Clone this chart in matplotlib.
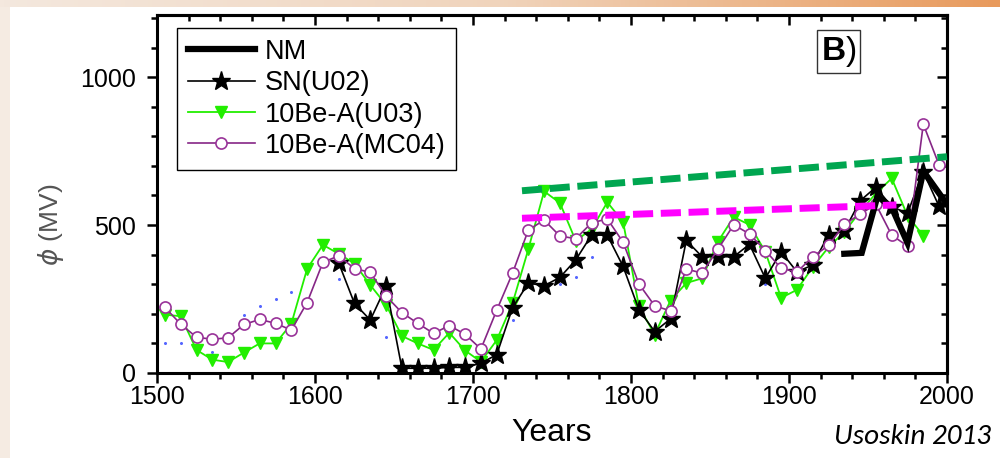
import numpy as np
import matplotlib

matplotlib.use("Agg")
import matplotlib.pyplot as plt
from matplotlib.patches import Rectangle
from matplotlib.ticker import MultipleLocator

plt.rcParams["font.family"] = ["Liberation Sans", "DejaVu Sans"]
plt.rcParams["mathtext.fontset"] = "custom"
plt.rcParams["mathtext.bf"] = "Liberation Sans:bold"
plt.rcParams["mathtext.it"] = "DejaVu Sans:italic"

# decadal reconstructions of the modulation potential (MV)
decades = list(range(1505, 2000, 10))
mc04 = [222, 165, 121, 114, 119, 164, 181, 168, 145, 238,
        374, 396, 353, 340, 260, 204, 168, 134, 160, 131,
        81, 212, 337, 483, 517, 463, 454, 507, 521, 442,
        301, 227, 210, 351, 338, 418, 501, 470, 414, 354,
        341, 393, 431, 502, 537, 570, 466, 429, 841, 703]

u03_years = list(range(1505, 1990, 10))
u03 = [197, 192, 78, 45, 37, 69, 100, 100, 166, 352,
       433, 403, 370, 297, 230, 125, 100, 78, 136, 76,
       38, 111, 235, 418, 614, 575, 447, 486, 577, 511,
       225, 130, 245, 304, 320, 444, 527, 501, 410, 254,
       281, 358, 425, 477, 545, 607, 658, 532, 464]

sn_years = list(range(1615, 2000, 10))
sn = [372, 235, 179, 293, 16, 16, 16, 19, 19, 33,
      62, 220, 304, 295, 323, 382, 466, 466, 360, 214,
      140, 183, 448, 393, 393, 393, 435, 320, 410, 342,
      365, 468, 480, 582, 628, 562, 540, 680, 563]

nm_years = [1935, 1946, 1956, 1965, 1975, 1985, 2000]
nm = [403, 406, 598, 560, 440, 682, 570]

# faint blue dots left over in the original figure
dot_years = [1505, 1515, 1535, 1545, 1555, 1565, 1575, 1585, 1615, 1625,
             1645, 1725, 1745, 1755, 1765, 1775, 1815, 1885]
dots = [100, 100, 72, 136, 195, 226, 251, 275, 317, 252,
        121, 179, 303, 301, 323, 393, 162, 301]

# hand-drawn trend lines
green_trend_x = [1731, 2000]
green_trend_y = [616, 731]
magenta_trend_x = [1731, 1968]
magenta_trend_y = [523, 568]

fig = plt.figure(figsize=(10, 4.58), dpi=100)
fig.patch.set_facecolor("#f5ebe2")
fig.patches.append(Rectangle((0.01, 0), 0.99, 1 - 7 / 458, transform=fig.transFigure,
                             facecolor="white", edgecolor="none", zorder=-10))
bg = fig.add_axes([0, 1 - 7 / 458, 1, 7 / 458], zorder=-5)
grad = np.linspace(0, 1, 256)[None, :]
bg.imshow(grad, aspect="auto", cmap=matplotlib.colors.LinearSegmentedColormap.from_list(
    "strip", ["#f4e8de", "#f0d4bc", "#e89a5c"]))
bg.axis("off")

ax = fig.add_axes([0.157, 1 - 373 / 458, 0.790, 358 / 458])

ax.plot(dot_years, dots, ls="none", marker="o", ms=1.2, color="#5566ff", zorder=1)
ax.plot(nm_years, nm, color="black", lw=4.5, solid_joinstyle="miter", label="NM", zorder=5)
ax.plot(sn_years, sn, color="black", lw=1.2, marker="*", ms=14, mfc="black", mec="black",
        label="SN(U02)", zorder=3)
ax.plot(u03_years, u03, color="#22ee00", lw=1.3, marker="v", ms=9, mfc="#22ee00", mec="#22ee00",
        label="10Be-A(U03)", zorder=2)
ax.plot(decades, mc04, color="#862686", lw=1.2, marker="o", ms=8, mfc="white", mec="#993399",
        mew=1.2, label="10Be-A(MC04)", zorder=4)

ax.plot(green_trend_x, green_trend_y, color="#00a650", lw=5, dashes=(2.9, 1.1),
        dash_capstyle="butt", zorder=6, clip_on=False)
ax.plot(magenta_trend_x, magenta_trend_y, color="#ff00ff", lw=5, dashes=(2.9, 1.1),
        dash_capstyle="butt", zorder=6)

ax.set_xlim(1500, 2000)
ax.set_ylim(0, 1210)

for s in ax.spines.values():
    s.set_linewidth(2.2)

ax.xaxis.set_major_locator(MultipleLocator(100))
ax.xaxis.set_minor_locator(MultipleLocator(20))
ax.yaxis.set_major_locator(MultipleLocator(500))
ax.yaxis.set_minor_locator(MultipleLocator(100))
ax.tick_params(which="major", direction="out", length=7, width=1.8, labelsize=18, pad=2)
ax.tick_params(which="minor", direction="out", length=4.5, width=1.8)
ax.tick_params(axis="y", which="major", pad=8)

top = ax.secondary_xaxis("top")
top.xaxis.set_major_locator(MultipleLocator(100))
top.xaxis.set_minor_locator(MultipleLocator(20))
top.tick_params(which="major", direction="in", length=7, width=1.8, labeltop=False)
top.tick_params(which="minor", direction="in", length=4.5, width=1.8)
top.spines["top"].set_linewidth(2.2)

right = ax.secondary_yaxis("right")
right.yaxis.set_major_locator(MultipleLocator(500))
right.yaxis.set_minor_locator(MultipleLocator(100))
right.tick_params(which="major", direction="in", length=7, width=1.8, labelright=False)
right.tick_params(which="minor", direction="in", length=4.5, width=1.8)
right.spines["right"].set_linewidth(2.2)

ax.set_xlabel("Years", fontsize=23)
ax.xaxis.set_label_coords(0.5, -0.125)
ax.set_ylabel(r"$\phi$ (MV)", fontsize=19, color="#555555")
ax.yaxis.set_label_coords(-0.115, 0.413)

leg = ax.legend(loc="upper left", bbox_to_anchor=(0.025, 0.964), borderaxespad=0,
                fontsize=19.5, numpoints=1, handlelength=2.5, handletextpad=0.35,
                labelspacing=0.2, borderpad=0.4, fancybox=False, framealpha=1,
                edgecolor="black")
leg.get_frame().set_linewidth(1.0)

ax.text(0.863, 0.898, r"$\mathbf{B}$)", transform=ax.transAxes, fontsize=24,
        ha="center", va="center",
        bbox=dict(boxstyle="square,pad=0.12", facecolor="white", edgecolor="#333333", lw=1.0))

fig.text(0.913, 0.046, "Usoskin 2013", fontsize=21, style="italic",
         family=["Carlito", "Lato", "DejaVu Sans"], ha="center", va="center")

fig.savefig("out.png", dpi=100, facecolor=fig.get_facecolor())
